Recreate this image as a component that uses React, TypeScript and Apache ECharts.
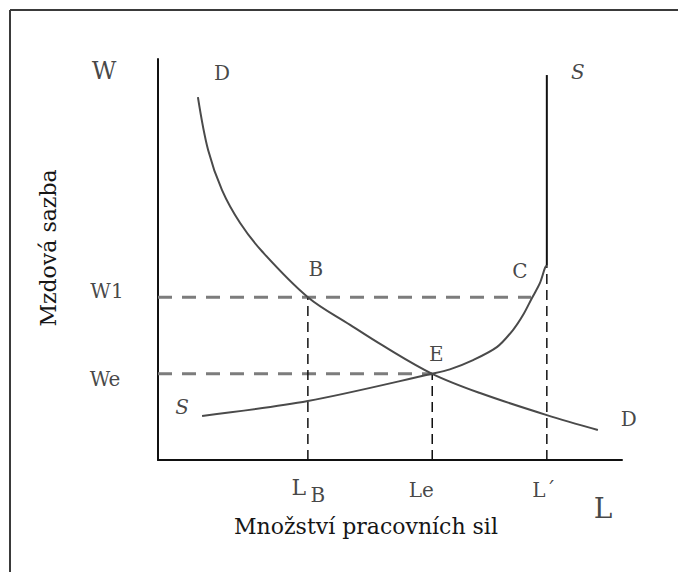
import React, { useEffect, useRef } from "react";
import * as echarts from "echarts";

// Demand curve D (labour quantity, wage)
const demandCurve: number[][] = [
  [8.6, 90.5], [10.8, 77.3], [13.8, 67.3], [17.7, 59.1], [22.6, 51.8],
  [32.3, 40.6], [41.4, 33.7], [48.5, 28.5], [59.1, 21.5], [69.4, 16.7],
  [83.8, 11.2], [94.8, 7.5],
];
// Supply curve S (curved part) up to point C
const supplyCurve: number[][] = [
  [9.5, 11.0], [32.3, 14.7], [59.1, 21.5], [62.9, 22.6], [67.9, 24.9],
  [73.1, 28.2], [76.5, 32.4], [78.7, 36.2], [80.6, 40.4], [82.3, 44.1],
  [83.4, 47.9], [83.8, 48.6],
];
// Supply curve S (vertical part above C)
const supplyVertical: number[][] = [[83.8, 48.6], [83.8, 96.0]];

// Levels on the axes
const wageTickLabels = ["W1", "We"];
const wageTickValues = [40.6, 21.5];
const laborTickLabels = ["L", "Le", "L´"];
const laborTickValues = [32.3, 59.1, 83.8];
const pointLabels = ["B", "E", "C"];
const curveLabels = ["D", "S"];
const axisEndLabels = ["W", "L"];
const axisTitles = ["Množství pracovních sil", "Mzdová sazba"];

const FONT = "DejaVu Serif";
const TEXT = "#161616";

export default function App() {
  const ref = useRef<HTMLDivElement>(null);
  useEffect(() => {
    if (!ref.current) return;
    const chart = echarts.init(ref.current, undefined, { renderer: "svg" });

    const [LB, Le, Lp] = laborTickValues;
    const [W1, We] = wageTickValues;
    const C = supplyCurve[supplyCurve.length - 1];

    const hDash = (y: number, xEnd: number) => ({
      type: "line", data: [[0, y], [xEnd, y]], symbol: "none", silent: true, z: 1,
      lineStyle: { color: "#7c7c7c", width: 3, type: [14, 10] },
    });
    const vDash = (x: number, yEnd: number) => ({
      type: "line", data: [[x, 0], [x, yEnd]], symbol: "none", silent: true, z: 1,
      lineStyle: { color: "#111", width: 1.5, type: [10, 6] },
    });

    const lbl = (name: string, value: number[], offset: number[], size = 20, italic = false) => ({
      name, value,
      label: { offset, fontSize: size, fontStyle: italic ? "italic" : "normal" },
    });

    const labelData = [
      lbl(axisEndLabels[0], [0, 100], [-54, 12], 24),
      lbl(axisEndLabels[1], [100, 0], [-19, 48], 28),
      lbl(curveLabels[0], demandCurve[0], [24, -24]),
      lbl(curveLabels[0], demandCurve[demandCurve.length - 1], [31, -11]),
      lbl(curveLabels[1], supplyVertical[1], [31, -3], 20, true),
      lbl(curveLabels[1], supplyCurve[0], [-20, -9], 20, true),
      lbl(pointLabels[0], [LB, W1], [8, -28]),
      lbl(pointLabels[1], [Le, We], [4, -20]),
      lbl(pointLabels[2], C, [-27, 6]),
      lbl(wageTickLabels[0], [0, W1], [-51, -6]),
      lbl(wageTickLabels[1], [0, We], [-53, 5]),
      lbl(laborTickLabels[0], [LB, 0], [-9, 27], 22),
      lbl("B", [LB, 0], [10, 35], 20),
      lbl(laborTickLabels[1], [Le, 0], [-11, 30]),
      lbl(laborTickLabels[2], [Lp, 0], [-3, 30]),
    ];

    const titleStyle = {
      fontFamily: FONT, fontSize: 22, fill: TEXT,
      align: "center", verticalAlign: "middle",
      textAlign: "center", textVerticalAlign: "middle",
    };

    chart.setOption({
      animation: false,
      backgroundColor: "#ffffff",
      grid: { left: 158, top: 59, width: 464, height: 401 },
      xAxis: {
        type: "value", min: 0, max: 100,
        axisLine: { show: true, onZero: false, lineStyle: { color: "#111", width: 2 } },
        axisTick: { show: false }, axisLabel: { show: false }, splitLine: { show: false },
      },
      yAxis: {
        type: "value", min: 0, max: 100,
        axisLine: { show: true, onZero: false, lineStyle: { color: "#111", width: 2 } },
        axisTick: { show: false }, axisLabel: { show: false }, splitLine: { show: false },
      },
      graphic: [
        { type: "line", shape: { x1: 10, y1: 10, x2: 678, y2: 10 }, style: { stroke: "#3a3a3a", lineWidth: 2 } },
        { type: "line", shape: { x1: 10, y1: 10, x2: 10, y2: 572 }, style: { stroke: "#3a3a3a", lineWidth: 2 } },
        { type: "text", x: 366, y: 526, style: { ...titleStyle, text: axisTitles[0] } },
        { type: "text", x: 48, y: 248, rotation: Math.PI / 2, style: { ...titleStyle, text: axisTitles[1] } },
      ],
      series: [
        hDash(W1, 80.4),
        hDash(We, Le),
        vDash(LB, W1),
        vDash(Le, We),
        vDash(Lp, C[1]),
        {
          type: "line", data: demandCurve, smooth: 0.35, symbol: "none", silent: true, z: 3,
          lineStyle: { color: "#4a4a4a", width: 2 },
        },
        {
          type: "line", data: supplyCurve, smooth: 0.3, symbol: "none", silent: true, z: 3,
          lineStyle: { color: "#4a4a4a", width: 2 },
        },
        {
          type: "line", data: supplyVertical, symbol: "none", silent: true, z: 3,
          lineStyle: { color: "#111", width: 2 },
        },
        {
          type: "scatter", data: labelData, symbolSize: 1, clip: false, silent: true, z: 5,
          itemStyle: { color: "rgba(0,0,0,0)" },
          label: {
            show: true, position: "inside", formatter: (p: any) => p.name,
            fontFamily: FONT, color: TEXT, fontSize: 20,
          },
        },
      ],
    });
    return () => chart.dispose();
  }, []);
  return (
    <div
      ref={ref}
      style={{ position: "fixed", left: 0, top: 0, width: 678, height: 572, background: "#fff" }}
    />
  );
}
